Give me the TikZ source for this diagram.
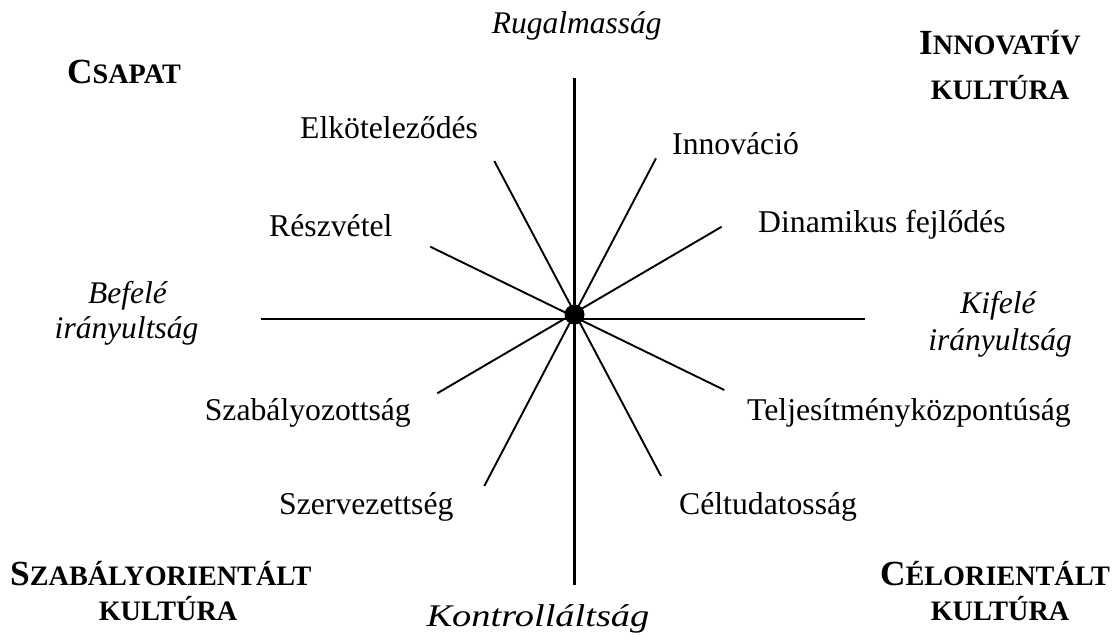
\documentclass[tikz,border=0pt]{standalone}
\usepackage{fontspec}
\setmainfont{Liberation Serif}
% bold heading with hand-made small capitals: first letter full size, rest reduced
\newcommand{\capsword}[2]{{\fontsize{35.3}{40}\selectfont #1}{\fontsize{28.2}{34}\selectfont #2}}
\newcommand{\smallword}[1]{{\fontsize{28.2}{34}\selectfont #1}}
\begin{document}
\begin{tikzpicture}[x=1pt,y=-1pt,
  axisline/.style={line width=2.2pt},
  spoke/.style={line width=1.9pt},
  item/.style={inner sep=0pt, font=\fontsize{31.7}{38}\selectfont},
  pole/.style={inner sep=0pt, font=\fontsize{31.5}{38}\selectfont\itshape},
  heading/.style={inner sep=0pt, font=\bfseries},
  hub/.style={circle, fill=black, inner sep=0pt, minimum size=20pt}
]
\useasboundingbox (0,0) rectangle (1116,641);

% axes
\coordinate (ax-top) at (574.5,78);
\coordinate (ax-bot) at (574.5,585);
\coordinate (ax-left) at (261,319);
\coordinate (ax-right) at (865,319);
\draw[axisline] (ax-top) -- (ax-bot);
\draw[axisline] (ax-left) -- (ax-right);

% spoke end points
\coordinate (s-elk) at (494.3,161);
\coordinate (s-cel) at (661,476);
\coordinate (s-inn) at (656,158.3);
\coordinate (s-szerv) at (484.3,486);
\coordinate (s-din) at (721.7,226.7);
\coordinate (s-szab) at (437.3,393.3);
\coordinate (s-resz) at (430.3,246.7);
\coordinate (s-telj) at (724.3,390);
\draw[spoke] (s-elk) -- (s-cel);
\draw[spoke] (s-inn) -- (s-szerv);
\draw[spoke] (s-din) -- (s-szab);
\draw[spoke] (s-resz) -- (s-telj);

\node[hub] (center) at (574.5,314.5) {};

% values around the star
\node[item, anchor=base west] (elk) at (300,138) {Elköteleződés};
\node[item, anchor=base west] (inn) at (672,154) {Innováció};
\node[item, anchor=base west] (din) at (758,232) {Dinamikus fejlődés};
\node[item, anchor=base west] (resz) at (269,236) {Részvétel};
\node[item, anchor=base east] (szab) at (411,420) {Szabályozottság};
\node[item, anchor=base west] (telj) at (747,420) {Teljesítményközpontúság};
\node[item, anchor=base west] (szerv) at (279,514) {Szervezettség};
\node[item, anchor=base west] (cel) at (679,514) {Céltudatosság};

% poles of the two dimensions
\node[pole, anchor=base] (rug) at (576.7,33) {Rugalmasság};
\node[pole, anchor=base] (kontr) at (538,626) {\scalebox{1.22}[1]{Kontrolláltság}};
\node[pole, anchor=base] (bef1) at (127.5,303) {Befelé};
\node[pole, anchor=base] (bef2) at (126.5,338) {irányultság};
\node[pole, anchor=base] (kif1) at (998,313) {Kifelé};
\node[pole, anchor=base] (kif2) at (1000,350) {irányultság};

% culture types in the corners
\node[heading, anchor=base west] (csapat) at (67,83) {\capsword{C}{SAPAT}};
\node[heading, anchor=base] (innov1) at (1000,54) {\capsword{I}{NNOVATÍV}};
\node[heading, anchor=base] (innov2) at (1000,99) {\smallword{KULTÚRA}};
\node[heading, anchor=base west] (szabor1) at (10,585) {\capsword{S}{ZABÁLYORIENTÁLT}};
\node[heading, anchor=base] (szabor2) at (168,620) {\smallword{KULTÚRA}};
\node[heading, anchor=base] (celor1) at (995,585) {\capsword{C}{ÉLORIENTÁLT}};
\node[heading, anchor=base] (celor2) at (1000,620) {\smallword{KULTÚRA}};
\end{tikzpicture}
\end{document}
